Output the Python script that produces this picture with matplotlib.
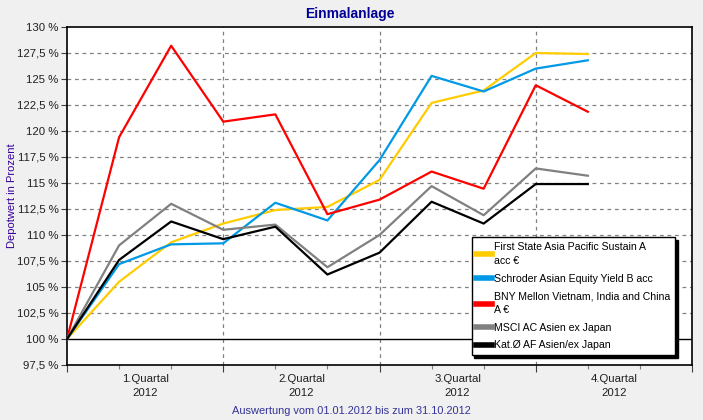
import matplotlib
matplotlib.use("Agg")
import matplotlib.pyplot as plt
from matplotlib.ticker import FixedLocator, NullFormatter

months = list(range(11))
first_state = [100, 105.5, 109.3, 111.1, 112.4, 112.7, 115.3, 122.7, 123.9, 127.5, 127.4]
schroder = [100, 107.2, 109.1, 109.2, 113.1, 111.4, 117.2, 125.3, 123.8, 126.0, 126.8]
bny = [100, 119.4, 128.2, 120.9, 121.6, 112.0, 113.4, 116.1, 114.45, 124.4, 121.85]
msci = [100, 109.0, 113.0, 110.5, 111.0, 106.9, 110.0, 114.7, 111.9, 116.4, 115.7]
kat = [100, 107.6, 111.3, 109.6, 110.8, 106.2, 108.3, 113.2, 111.1, 114.9, 114.9]

series_names = ["First State Asia Pacific Sustain A\nacc \u20ac",
                "Schroder Asian Equity Yield B acc",
                "BNY Mellon Vietnam, India and China\nA \u20ac",
                "MSCI AC Asien ex Japan",
                "Kat.\u00d8 AF Asien/ex Japan"]
colors = ["#FFCC00", "#0099E6", "#FF0000", "#808080", "#000000"]

quarter_labels = ["1.Quartal\n2012", "2.Quartal\n2012", "3.Quartal\n2012", "4.Quartal\n2012"]
y_ticks = [97.5 + 2.5 * i for i in range(14)]

plt.rcParams['font.family'] = ['Liberation Sans', 'DejaVu Sans']
fig = plt.figure(figsize=(7.03, 4.20), dpi=100, facecolor="#F0F0F0")
ax = fig.add_axes([67/703, 55/420, 625/703, 338/420])
ax.set_facecolor("white")

for vals, name, c in zip([first_state, schroder, bny, msci, kat], series_names, colors):
    ax.plot(months, vals, color=c, lw=1.6, label=name, zorder=3)

ax.set_xlim(0, 12)
ax.set_ylim(97.5, 130)

def fmt(v):
    s = ("%g" % v).replace(".", ",")
    return s + " %"

ax.set_yticks(y_ticks)
ax.set_yticklabels([fmt(v) for v in y_ticks], fontsize=8.2, color="#202020")
for v in y_ticks[1:-1]:
    if v == 100:
        ax.axhline(v, color="black", lw=1.0, zorder=2)
    else:
        ax.axhline(v, color="#808080", lw=0.9, ls=(0, (3, 3)), zorder=1)
for xv in [3, 6, 9]:
    ax.axvline(xv, color="#808080", lw=0.9, ls=(0, (3, 3)), zorder=1)

ax.xaxis.set_major_locator(FixedLocator([0, 3, 6, 9, 12]))
ax.xaxis.set_minor_locator(FixedLocator([1, 2, 4, 5, 7, 8, 10, 11]))
ax.xaxis.set_major_formatter(NullFormatter())
ax.tick_params(axis='x', which='major', length=5, width=0.8, color="#404040")
ax.tick_params(axis='x', which='minor', length=3, width=0.8, color="#808080")
ax.tick_params(axis='y', length=4, width=0.8, color="#404040", pad=2)
for i, lab in enumerate(quarter_labels):
    ax.text(1.5 + 3 * i, 97.5 - 0.85, lab, ha="center", va="top", fontsize=8.2,
            linespacing=1.55, color="#202020", transform=ax.transData)

for sp in ax.spines.values():
    sp.set_linewidth(1.2)
    sp.set_color("black")

fig.text(350/703, 1 - 14/420, "Einmalanlage", ha="center", va="center",
         fontsize=10, fontweight="bold", color="#000099")
fig.text(12/703, 1 - 196/420, "Depotwert in Prozent", ha="center", va="center",
         rotation=90, fontsize=8.0, color="#330099")
fig.text(351/703, 1 - 411/420, "Auswertung vom 01.01.2012 bis zum 31.10.2012",
         ha="center", va="center", fontsize=7.9, color="#333399")

leg = ax.legend(loc="lower left", bbox_to_anchor=(0.6475, 0.0296), fontsize=7.6,
                frameon=True, fancybox=False, shadow={'color': 'black', 'alpha': 1},
                edgecolor="black", handlelength=1.5, handletextpad=0.2,
                labelspacing=0.7, borderpad=0.45, borderaxespad=0)
leg.get_frame().set_linewidth(1.0)
for t in leg.get_texts():
    t.set_linespacing(1.55)
for h in leg.get_lines():
    h.set_linewidth(4)

fig.savefig("out.png", dpi=100, facecolor=fig.get_facecolor())
